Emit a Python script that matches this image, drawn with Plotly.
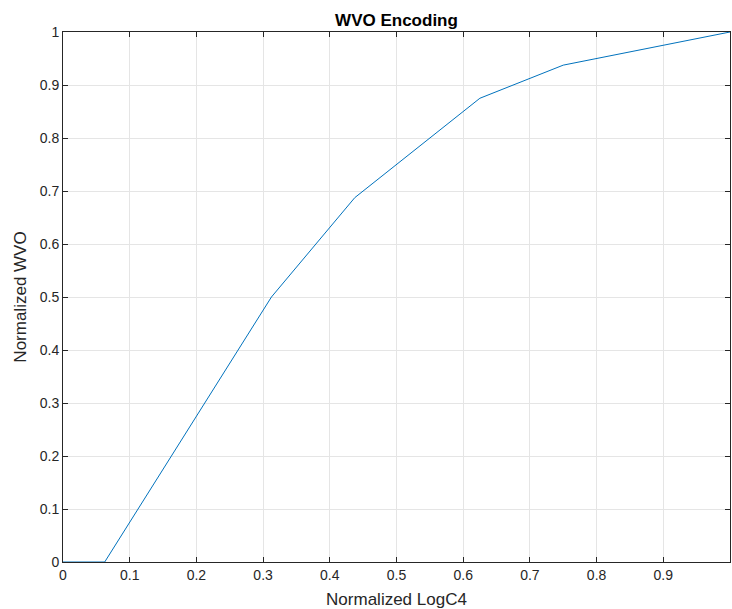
import plotly.graph_objects as go

x_vals = [0, 0.0625, 0.3125, 0.4375, 0.625, 0.75, 1.0]
y_vals = [0, 0, 0.5, 0.6875, 0.875, 0.9375, 1.0]
x_ticks = [0, 0.1, 0.2, 0.3, 0.4, 0.5, 0.6, 0.7, 0.8, 0.9, 1]
y_ticks = [0, 0.1, 0.2, 0.3, 0.4, 0.5, 0.6, 0.7, 0.8, 0.9, 1]
x_tick_labels = ["0", "0.1", "0.2", "0.3", "0.4", "0.5", "0.6", "0.7", "0.8", "0.9", "1"]
y_tick_labels = ["0", "0.1", "0.2", "0.3", "0.4", "0.5", "0.6", "0.7", "0.8", "0.9", "1"]

FONT = "Liberation Sans, Arial, sans-serif"
W, H = 732, 609

fig = go.Figure()
fig.add_trace(go.Scatter(x=x_vals, y=y_vals, mode="lines",
                         line=dict(color="#0072BD", width=1), showlegend=False,
                         cliponaxis=False))

axis_common = dict(
    showline=True, linecolor="#262626", linewidth=1, mirror="ticks",
    ticks="inside", ticklen=5, tickcolor="#262626", tickwidth=1,
    showgrid=True, gridcolor="#e5e5e5", gridwidth=1,
    zeroline=False, automargin=False,
    tickfont=dict(family=FONT, size=14, color="#262626"),
)

fig.update_layout(
    width=W, height=H,
    margin=dict(l=63, r=2, t=32, b=47),
    paper_bgcolor="white", plot_bgcolor="white",
    title=dict(text="<b>WVO Encoding</b>", xref="paper", x=0.5, xanchor="center",
               yref="container", y=1 - 20.5/H, yanchor="middle",
               font=dict(family=FONT, size=17, color="black")),
    xaxis=dict(range=[0, 1], tickvals=x_ticks, ticktext=x_tick_labels,
               title=dict(text="Normalized LogC4", standoff=11,
                          font=dict(family=FONT, size=17, color="#262626")),
               **axis_common),
    yaxis=dict(range=[0, 1], tickvals=y_ticks, ticktext=y_tick_labels,
               title=dict(text="Normalized WVO", standoff=8,
                          font=dict(family=FONT, size=17, color="#262626")),
               **axis_common),
)

fig.write_html("out.html", config={"displayModeBar": False},
               post_script="document.body.style.margin='0';document.body.style.overflow='hidden';")
